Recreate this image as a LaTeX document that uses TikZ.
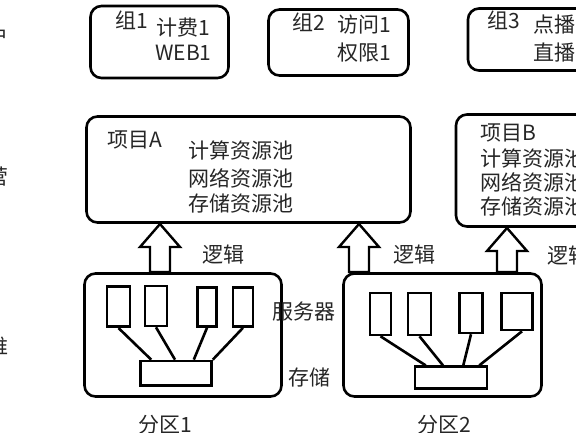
\documentclass[tikz,border=0pt]{standalone}
\usepackage{fontspec}
\newfontfamily\cjk{Noto Sans CJK SC}
\usetikzlibrary{positioning}
\newcommand\logicup[3]{% x, tip y, shaft bottom y
  \draw[blk] (#1,#2) -- (#1+20,#2+23) -- (#1+10,#2+23) -- (#1+10,#3)
    -- (#1-10,#3) -- (#1-10,#2+23) -- (#1-20,#2+23) -- cycle;}
\begin{document}
\begin{tikzpicture}[x=1pt,y=-1pt,
    panel/.style={draw, line width=2.6pt, rounded corners=11pt, inner sep=0pt},
    unit/.style={draw, line width=2.6pt, inner sep=0pt},
    lbl/.style={font=\cjk\fontsize{21}{25}\selectfont, text=black!85, inner sep=0pt},
    link/.style={line width=2.6pt},
    blk/.style={line width=2.4pt, line join=miter}]
  \useasboundingbox (0,0) rectangle (576,432);
  \clip (0,0) rectangle (576,432);
  % left layer labels
  \node[lbl, anchor=east] (yonghu) at (9,37) {用户};
  \node[lbl, anchor=east] (yunying) at (9,177) {运营};
  \node[lbl, anchor=east] (yunwei) at (9,347) {运维};
  % groups
  \node[panel, minimum width=138pt, minimum height=72pt] (g1) at (159.5,42) {};
  \node[panel, minimum width=140pt, minimum height=66pt] (g2) at (338.5,42.5) {};
  \node[panel, minimum width=160pt, minimum height=62pt] (g3) at (548,39.5) {};
  \node[lbl, anchor=west] (g1name) at (115,20) {组1};
  \node[lbl, anchor=west] (g1a) at (156,28) {计费1};
  \node[lbl, anchor=west] (g1b) at (155,53) {WEB1};
  \node[lbl, anchor=west] (g2name) at (292,22) {组2};
  \node[lbl, anchor=west] (g2a) at (337,25) {访问1};
  \node[lbl, anchor=west] (g2b) at (337,53) {权限1};
  \node[lbl, anchor=west] (g3name) at (487,20) {组3};
  \node[lbl, anchor=west] (g3a) at (533,25) {点播1};
  \node[lbl, anchor=west] (g3b) at (533,53) {直播1};
  % projects
  \node[panel, minimum width=324pt, minimum height=106pt] (projA) at (248.5,169.5) {};
  \node[panel, minimum width=183pt, minimum height=112pt] (projB) at (547.5,170.5) {};
  \node[lbl, anchor=west] (projAname) at (107,140) {项目A};
  \node[lbl, anchor=west] (poolA1) at (188,150) {计算资源池};
  \node[lbl, anchor=west] (poolA2) at (188,178) {网络资源池};
  \node[lbl, anchor=west] (poolA3) at (188,204) {存储资源池};
  \node[lbl, anchor=west] (projBname) at (480,133) {项目B};
  \node[lbl, anchor=west] (poolB1) at (480,158) {计算资源池};
  \node[lbl, anchor=west] (poolB2) at (480,182) {网络资源池};
  \node[lbl, anchor=west] (poolB3) at (480,207) {存储资源池};
  % logic arrows
  \logicup{160}{224}{272}
  \logicup{359}{224}{272}
  \logicup{507}{228}{272}
  \node[lbl, anchor=west] (logic1) at (202,255) {逻辑};
  \node[lbl, anchor=west] (logic2) at (393,255) {逻辑};
  \node[lbl, anchor=west] (logic3) at (547,256) {逻辑};
  % partitions
  \node[panel, minimum width=197pt, minimum height=123pt] (part1) at (183,335) {};
  \node[panel, minimum width=198pt, minimum height=123pt] (part2) at (442.5,335) {};
  \node[unit, minimum width=23pt, minimum height=40pt] (s11) at (118.5,306.7) {};
  \node[unit, minimum width=22pt, minimum height=40pt] (s12) at (156,306) {};
  \node[unit, minimum width=19pt, minimum height=39pt] (s13) at (207,307) {};
  \node[unit, minimum width=20pt, minimum height=39pt] (s14) at (243,307) {};
  \node[unit, minimum width=71pt, minimum height=24.7pt] (st1) at (176,373.3) {};
  \node[unit, minimum width=21pt, minimum height=42pt] (s21) at (380.5,314) {};
  \node[unit, minimum width=23pt, minimum height=42pt] (s22) at (419.5,314) {};
  \node[unit, minimum width=23pt, minimum height=40pt] (s23) at (471,313) {};
  \node[unit, minimum width=31pt, minimum height=37pt] (s24) at (517,311.5) {};
  \node[unit, minimum width=72pt, minimum height=21.6pt] (st2) at (451,377.5) {};
  \draw[link] (s11.south) -- ([xshift=12pt]st1.north west);
  \draw[link] (s12.south) -- ([xshift=-1pt]st1.north);
  \draw[link] (s13.south) -- ([xshift=-19pt]st1.north east);
  \draw[link] (s14.south) -- (st1.north east);
  \draw[link] (s21.south) -- ([xshift=12pt]st2.north west);
  \draw[link] (s22.south) -- ([xshift=-8pt]st2.north);
  \draw[link] (s23.south) -- ([xshift=-25pt]st2.north east);
  \draw[link] ([xshift=5pt]s24.south) -- ([xshift=-9pt]st2.north east);
  \node[lbl, anchor=west] (srv) at (272,312) {服务器};
  \node[lbl, anchor=west] (sto) at (288,377) {存储};
  \node[lbl] (part1name) at (165.5,425) {分区1};
  \node[lbl] (part2name) at (444.5,425) {分区2};
\end{tikzpicture}
\end{document}
